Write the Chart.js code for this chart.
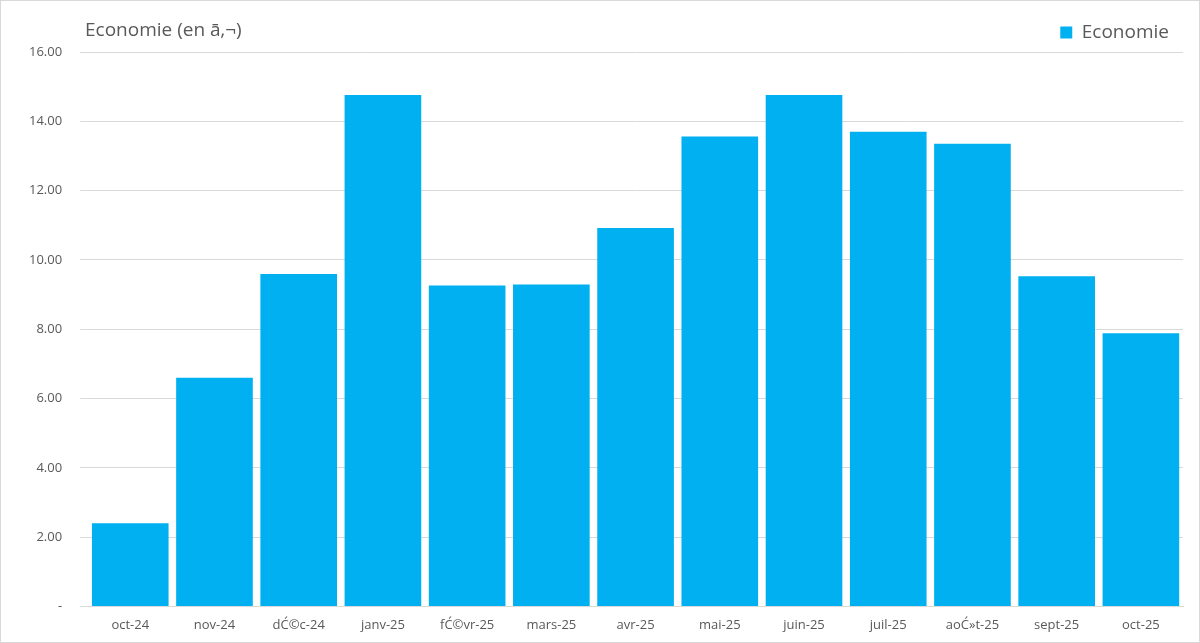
<!DOCTYPE html>
<html>
<head>
  <title>Economie</title>
  <script src="https://cdn.jsdelivr.net/npm/chart.js"></script>
  <style>
    body { margin: 0; padding: 0; background: #fff; font-family: 'Open Sans', sans-serif; }
    #wrap { position: relative; width: 1200px; height: 643px; box-sizing: border-box; border: 1px solid #d9d9d9; }
    #titre { position: absolute; left: 84px; top: 15px; font-size: 19px; color: #595959; }
    canvas { width: 100% !important; height: 100% !important; }
  </style>
</head>
<body>
  <div id="wrap">
    <div id="titre">Economie (en €)</div>
    <canvas id="myChart"></canvas>
  </div>
  <script>
    const mois = ['oct-24', 'nov-24', 'déc-24', 'janv-25', 'févr-25', 'mars-25', 'avr-25',
                  'mai-25', 'juin-25', 'juil-25', 'août-25', 'sept-25', 'oct-25'];
    const economie = [2.40, 6.60, 9.59, 14.76, 9.26, 9.29, 10.92, 13.56, 14.76, 13.70, 13.35, 9.53, 7.88];

    const ctx = document.getElementById('myChart').getContext('2d');
    new Chart(ctx, {
      type: 'bar',
      data: {
        labels: mois,
        datasets: [{
          label: 'Economie',
          data: economie,
          backgroundColor: '#00b0f0',
          barPercentage: 0.91,
          categoryPercentage: 1.0
        }]
      },
      options: {
        responsive: true,
        maintainAspectRatio: false,
        animation: false,
        layout: { padding: { top: 8, right: 16, left: 10, bottom: 6 } },
        plugins: {
          legend: {
            position: 'top',
            align: 'end',
            labels: {
              color: '#595959',
              font: { family: 'Open Sans', size: 19 },
              boxWidth: 12, boxHeight: 12,
              padding: 14
            }
          },
          tooltip: { enabled: false }
        },
        scales: {
          x: {
            grid: { display: false },
            border: { color: '#d9d9d9' },
            ticks: { color: '#595959', font: { family: 'Open Sans', size: 13 }, maxRotation: 0 }
          },
          y: {
            min: 0, max: 16,
            grid: { color: '#d9d9d9' },
            border: { display: false },
            ticks: {
              stepSize: 2,
              color: '#595959',
              font: { family: 'Open Sans', size: 13 },
              padding: 18,
              callback: v => v === 0 ? '-' : v.toFixed(2)
            }
          }
        }
      }
    });
  </script>
</body>
</html>
